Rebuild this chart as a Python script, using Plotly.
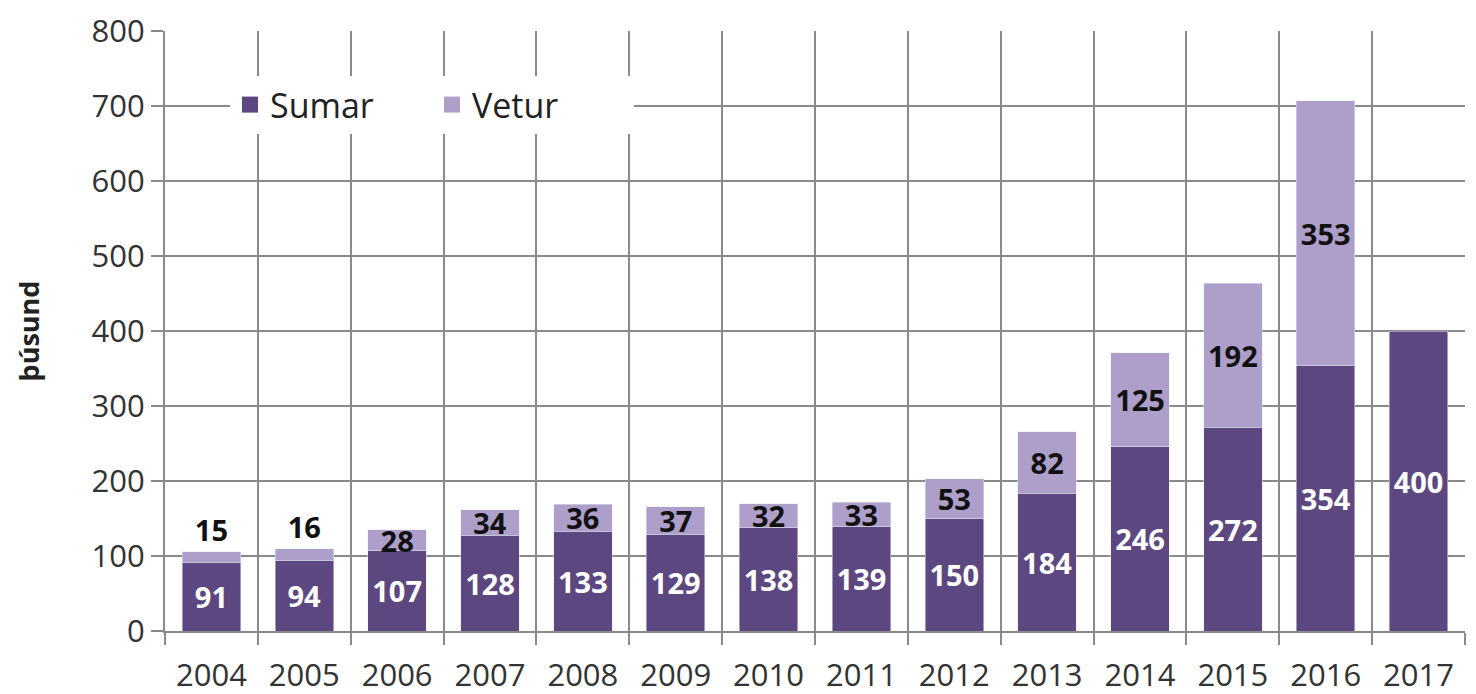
import plotly.graph_objects as go

years = ["2004", "2005", "2006", "2007", "2008", "2009", "2010",
         "2011", "2012", "2013", "2014", "2015", "2016", "2017"]
sumar = [91, 94, 107, 128, 133, 129, 138, 139, 150, 184, 246, 272, 354, 400]
vetur = [15, 16, 28, 34, 36, 37, 32, 33, 53, 82, 125, 192, 353, None]
y_ticks = [0, 100, 200, 300, 400, 500, 600, 700, 800]

dark = "#5d4780"
light = "#ad9fc9"
grid = "#8a8a8a"
font_family = "Open Sans, Noto Sans, sans-serif"
tick_size = 31
label_size = 29

vet_pos = ["outside" if (v is not None and v < 20) else "inside" for v in vetur]

fig = go.Figure()
fig.add_trace(go.Bar(
    x=years, y=sumar, name="Sumar", marker_color=dark, showlegend=False,
    text=[str(v) for v in sumar], textposition="inside",
    insidetextanchor="middle", textangle=0, constraintext="none",
    textfont=dict(color="white", size=label_size, family=font_family, weight="bold"),
))
fig.add_trace(go.Bar(
    x=years, y=vetur, name="Vetur", marker_color=light, showlegend=False,
    text=[str(v) if v is not None else "" for v in vetur],
    textposition=vet_pos, insidetextanchor="middle", textangle=0,
    constraintext="none",
    textfont=dict(color="#111111", size=label_size, family=font_family, weight="bold"),
    cliponaxis=False,
))
# legend entries with larger square swatches
for nm, col in (("Sumar", dark), ("Vetur", light)):
    fig.add_trace(go.Scatter(
        x=[years[0]], y=[None], mode="markers", name=nm,
        marker=dict(symbol="square", size=22, color=col),
        hoverinfo="skip",
    ))

fig.update_layout(
    barmode="stack",
    bargap=0.37,
    width=1476, height=694,
    margin=dict(l=157, r=19, t=23, b=71),
    plot_bgcolor="white", paper_bgcolor="white",
    font=dict(family=font_family, size=tick_size, color="#333333"),
    legend=dict(
        orientation="h", x=0.05, y=0.925, xanchor="left", yanchor="top",
        bgcolor="white", font=dict(size=34, color="#222222"),
        traceorder="normal", borderwidth=0, itemsizing="trace",
        entrywidth=157, entrywidthmode="pixels",
    ),
    showlegend=True,
)
fig.update_xaxes(
    type="category", range=[-0.5, len(years) - 0.5], autorange=False,
    tickson="boundaries", showgrid=True, gridcolor=grid,
    gridwidth=2, ticks="outside", ticklen=12, tickcolor=grid, tickwidth=2,
    showline=True, linecolor=grid, linewidth=2, mirror=False, automargin=False,
    ticklabelstandoff=16,
    tickfont=dict(size=tick_size, color="#333333"),
)
fig.update_yaxes(
    range=[0, 800], tickvals=y_ticks, showgrid=True, gridcolor=grid,
    gridwidth=2, ticks="outside", ticklen=12, tickcolor=grid, tickwidth=2,
    showline=True, linecolor=grid, linewidth=2, zeroline=False, automargin=False,
    ticksuffix="\u2002\u2009",
    tickfont=dict(size=tick_size, color="#333333"),
    title=dict(text="<b>þúsund</b>", font=dict(size=27, color="#222222"), standoff=44),
)

fig.write_html("out.html")
